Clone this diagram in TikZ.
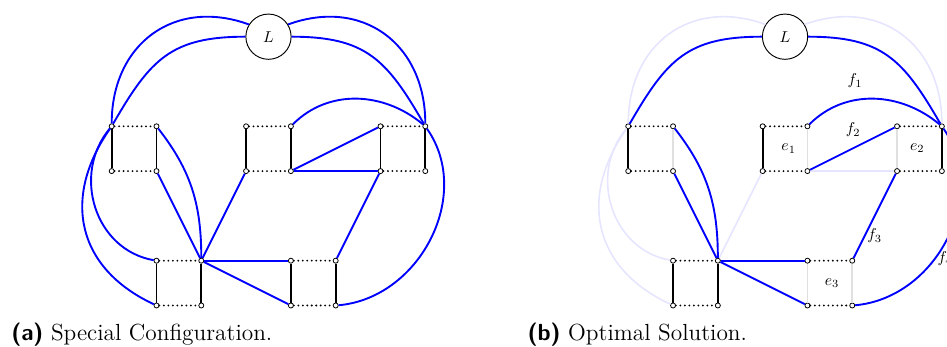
\documentclass[tikz,border=0pt]{standalone}
\usepackage{graphicx}
\tikzset{
  v/.style={circle,draw,fill=white,inner sep=0pt,minimum size=3.2pt,line width=0.5pt},
  hor/.style={line width=1.3pt,line cap=round,dash pattern=on 0pt off 2.85pt},
  ver/.style={line width=1.2pt},
  gver/.style={line width=1pt,draw=black!12},
  be/.style={draw=blue,line width=1.2pt},
  fe/.style={draw=blue!10,line width=1pt},
  lnode/.style={circle,draw,fill=white,minimum size=1.01cm,inner sep=0pt,line width=0.6pt},
  lbl/.style={inner sep=0pt},
  capt/.style={anchor=base west,inner sep=0pt,font=\fontsize{14.8}{17}\selectfont}
}
\begin{document}
\begin{tikzpicture}
\useasboundingbox (-2.493,-4.926) rectangle (18.645,2.819);
\clip (-2.493,-4.926) rectangle (18.645,2.819);

% ---------------- left panel ----------------
\node[lnode] (aL) at (3.5,2) {$L$};
\foreach \c/\r in {0/0,1/0,0/1,1/1,3/0,4/0,3/1,4/1,6/0,7/0,6/1,7/1,1/3,2/3,1/4,2/4,4/3,5/3,4/4,5/4}
  \node[v] (a\c\r) at (\c,-\r) {};
% dotted horizontals
\foreach \p/\q in {00/10,01/11,30/40,31/41,60/70,61/71,13/23,14/24,43/53,44/54}
  \draw[hor] (a\p) -- (a\q);
% verticals
\foreach \p/\q in {00/01,10/11,30/31,40/41,60/61,70/71,13/14,23/24,43/44,53/54}
  \draw[ver] (a\p) -- (a\q);
% blue edges
\draw[be] (aL.148) to[out=160,in=90,looseness=1.2] (a00);
\draw[be] (aL.west) to[out=180,in=60,looseness=1.2] (a00);
\draw[be] (aL.32) to[out=20,in=90,looseness=1.2] (a70);
\draw[be] (aL.east) to[out=0,in=120,looseness=1.2] (a70);
\draw[be] (a00) to[out=230,in=170,looseness=1.1] (a13);
\draw[be] (a00) to[out=235,in=155,looseness=1.2] (a14);
\draw[be] (a10) to[out=-52,in=90] (a23);
\draw[be] (a11) -- (a23);
\draw[be] (a31) -- (a23);
\draw[be] (a23) -- (a43);
\draw[be] (a23) -- (a44);
\draw[be] (a40) to[out=45,in=140] (a70);
\draw[be] (a41) -- (a60);
\draw[be] (a41) -- (a61);
\draw[be] (a61) -- (a53);
\draw[be] (a70) to[out=-55,in=5,looseness=1.05] (a54);

\node[capt] (capa) at (-2.248,-4.786)
  {\textsf{\bfseries (a)} Special Configuration.};

% ---------------- right panel ----------------
\begin{scope}[xshift=11.53cm]
\node[lnode] (bL) at (3.5,2) {$L$};
\foreach \c/\r in {0/0,1/0,0/1,1/1,3/0,4/0,3/1,4/1,6/0,7/0,6/1,7/1,1/3,2/3,1/4,2/4,4/3,5/3,4/4,5/4}
  \node[v] (b\c\r) at (\c,-\r) {};
% faded edges
\draw[fe] (bL.148) to[out=160,in=90,looseness=1.2] (b00);
\draw[fe] (bL.32) to[out=20,in=90,looseness=1.2] (b70);
\draw[fe] (b00) to[out=230,in=170,looseness=1.1] (b13);
\draw[fe] (b00) to[out=235,in=155,looseness=1.2] (b14);
\draw[fe] (b31) -- (b23);
\draw[fe] (b41) -- (b61);
% dotted horizontals
\foreach \p/\q in {00/10,01/11,30/40,31/41,60/70,61/71,13/23,14/24,43/53,44/54}
  \draw[hor] (b\p) -- (b\q);
% verticals
\foreach \p/\q in {00/01,30/31,70/71,13/14,23/24}
  \draw[ver] (b\p) -- (b\q);
\foreach \p/\q in {10/11,40/41,60/61,43/44,53/54}
  \draw[gver] (b\p) -- (b\q);
% blue edges
\draw[be] (bL.west) to[out=180,in=60,looseness=1.2] (b00);
\draw[be] (bL.east) to[out=0,in=120,looseness=1.2] (b70);
\draw[be] (b10) to[out=-52,in=90] (b23);
\draw[be] (b11) -- (b23);
\draw[be] (b23) -- (b43);
\draw[be] (b23) -- (b44);
\draw[be] (b40) to[out=45,in=140] (b70);
\draw[be] (b41) -- (b60);
\draw[be] (b61) -- (b53);
\draw[be] (b70) to[out=-55,in=5,looseness=1.05] (b54);
% labels
\node[lbl] (f1) at (5.06,1.01) {$f_1$};
\node[lbl] (f2) at (5.02,-0.08) {$f_2$};
\node[lbl] (e1) at (3.58,-0.5) {$e_1$};
\node[lbl] (e2) at (6.45,-0.49) {$e_2$};
\node[lbl] (e3) at (4.55,-3.5) {$e_3$};
\node[lbl] (f3) at (5.5,-2.45) {$f_3$};
\node[lbl] (f4) at (7.07,-2.95) {$f_4$};
\end{scope}

\node[capt] (capb) at (9.277,-4.786)
  {\textsf{\bfseries (b)} Optimal Solution.};
\end{tikzpicture}
\end{document}
